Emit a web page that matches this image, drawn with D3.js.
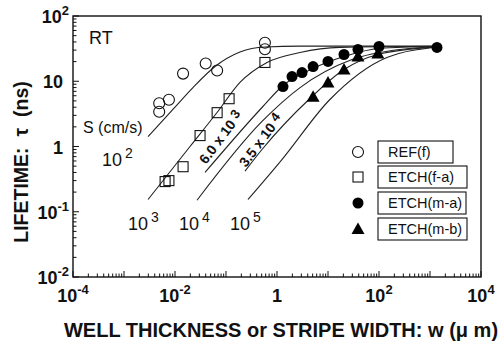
<!DOCTYPE html>
<html><head><meta charset="utf-8">
<script src="https://cdn.jsdelivr.net/npm/d3@7"></script>
<style>
body { margin: 0; background: #fff; }
text { font-family: "Liberation Sans", Arial, sans-serif; fill: #111; }
</style>
</head><body>
<svg id="chart"></svg>
<script>
// measured points, w in um, tau in ns
const refF = [[0.0049, 3.4], [0.0049, 4.6], [0.0076, 5.2], [0.0144, 13.1], [0.040, 18.7], [0.067, 14.6], [0.58, 39], [0.58, 31]];
const etchFA = [[0.0064, 0.29], [0.0076, 0.30], [0.0144, 0.49], [0.031, 1.47], [0.067, 3.3], [0.115, 5.4], [0.58, 19.4]];
const etchMA = [[1.31, 8.3], [1.97, 11.8], [3.1, 13.6], [5.1, 16.8], [10, 20.1], [20.6, 25.7], [38.7, 30.7], [100, 34.1], [1370, 33]];
const etchMB = [[5.1, 5.8], [10, 9.6], [20.6, 15.1], [38.7, 24], [95, 26.6]];

// calculated curves for each surface recombination velocity S
const curveS1e2 = [[0.00296, 1.42], [0.0091, 3.7], [0.0225, 8.0], [0.061, 16.8], [0.188, 28], [0.58, 33.5], [2.8, 34.5], [1370, 34.5]];
const curveS1e3 = [[0.00296, 0.154], [0.0197, 1.0], [0.0667, 3.32], [0.188, 9.6], [0.637, 19.4], [2.83, 27.6], [17.2, 33], [1370, 34.3]];
const curveS6e3 = [[0.0388, 0.40], [0.508, 3.96], [1.31, 8.6], [5.1, 15.7], [20.6, 23.9], [100, 31.8], [1370, 34]];
const curveS1e4 = [[0.027, 0.15], [0.508, 2.42], [2.83, 8.0], [29.6, 21.5], [258, 30.7], [1370, 33.8]];
const curveS35e4 = [[0.236, 0.42], [0.508, 0.9], [4.43, 5.44], [20.6, 15.1], [95, 25.7], [1370, 33.6]];
const curveS1e5 = [[0.27, 0.154], [1.25, 0.63], [10.9, 5.25], [143, 23.1], [1370, 33.2]];
const curves = [curveS1e2, curveS1e3, curveS6e3, curveS1e4, curveS35e4, curveS1e5];

const xTickExp = [-4, -2, 0, 2, 4];
const yTickExp = [-2, -1, 0, 1, 2];
const legendNames = ["REF(f)", "ETCH(f-a)", "ETCH(m-a)", "ETCH(m-b)"];

const W = 503, H = 342;
const svg = d3.select("#chart").attr("width", W).attr("height", H);

const x = d3.scaleLog().domain([1e-4, 1e4]).range([73, 481]);
const y = d3.scaleLog().domain([1e-2, 1e2]).range([277, 16]);

// curves
const line = d3.line().x(d => x(d[0])).y(d => y(d[1])).curve(d3.curveMonotoneX);
curves.forEach(c => {
    svg.append("path").attr("d", line(c))
        .attr("fill", "none").attr("stroke", "#222").attr("stroke-width", 1.1);
});

// frame
svg.append("rect").attr("x", 73).attr("y", 16).attr("width", 408).attr("height", 261)
    .attr("fill", "none").attr("stroke", "#111").attr("stroke-width", 1.4);

// ticks, pointing inward
x.ticks().forEach(v => {
    const major = Math.abs(Math.log10(v) - Math.round(Math.log10(v))) < 1e-6;
    svg.append("line").attr("x1", x(v)).attr("x2", x(v))
        .attr("y1", 277).attr("y2", 277 - (major ? 6 : 3.5))
        .attr("stroke", "#111").attr("stroke-width", 1);
});
y.ticks().forEach(v => {
    const major = Math.abs(Math.log10(v) - Math.round(Math.log10(v))) < 1e-6;
    svg.append("line").attr("y1", y(v)).attr("y2", y(v))
        .attr("x1", 73).attr("x2", 73 + (major ? 6 : 3.5))
        .attr("stroke", "#111").attr("stroke-width", 1);
});

// power-of-ten label helper
function pow10(g, e, size, supSize) {
    const t = g.append("text").attr("font-size", size);
    if (e === 0) { t.text("1"); return t; }
    t.append("tspan").text("10");
    if (e !== 1) t.append("tspan").attr("font-size", supSize).attr("dy", -size * 0.42).text(e);
    return t;
}

xTickExp.forEach(e => {
    pow10(svg, e, 18, 13).attr("font-weight", "bold")
        .attr("x", x(Math.pow(10, e))).attr("y", 302).attr("text-anchor", "middle");
});
yTickExp.forEach(e => {
    const plain = e === 0 || e === 1;
    pow10(svg, e, 18, 13).attr("font-weight", "bold")
        .attr("x", plain ? 63 : 69).attr("y", y(Math.pow(10, e)) + 7).attr("text-anchor", "end");
});

// axis titles
svg.append("text").attr("x", 281).attr("y", 337).attr("text-anchor", "middle")
    .attr("font-size", 20).attr("font-weight", "bold")
    .text("WELL THICKNESS or STRIPE WIDTH: w (\u03bc m)");
svg.append("text").attr("transform", "translate(28,162) rotate(-90)")
    .attr("text-anchor", "middle").attr("font-size", 19.5).attr("font-weight", "bold")
    .style("white-space", "pre")
    .text("LIFETIME:  \u03c4  (ns)");

// in-plot labels
svg.append("text").attr("x", 89).attr("y", 44).attr("font-size", 18).text("RT");
svg.append("text").attr("x", 83).attr("y", 133).attr("font-size", 16).text("S (cm/s)");
[[2, 102, 166], [3, 128, 230], [4, 179, 230], [5, 230, 230]].forEach(d => {
    pow10(svg, d[0], 18, 14).attr("x", d[1]).attr("y", d[2]).selectAll("tspan")
        .filter((_, i) => i === 1).attr("dx", 3);
});
[["6.0 x 10", "3", 206, 165], ["3.5 x 10", "4", 246, 168]].forEach(d => {
    const t = svg.append("text").attr("transform", `translate(${d[2]},${d[3]}) rotate(-53)`)
        .attr("font-size", 14).attr("font-weight", "bold");
    t.append("tspan").text(d[0]);
    t.append("tspan").attr("dx", 4).attr("dy", -3).attr("font-size", 13).text(d[1]);
});

// markers
function drawMarkers(data, kind) {
    data.forEach(d => marker(x(d[0]), y(d[1]), kind));
}
function marker(cx, cy, kind) {
    if (kind === "open") {
        svg.append("circle").attr("cx", cx).attr("cy", cy).attr("r", 5.5)
            .attr("fill", "none").attr("stroke", "#111").attr("stroke-width", 1.1);
    } else if (kind === "square") {
        svg.append("rect").attr("x", cx - 5).attr("y", cy - 5).attr("width", 10).attr("height", 10)
            .attr("fill", "none").attr("stroke", "#111").attr("stroke-width", 1.1);
    } else if (kind === "dot") {
        svg.append("circle").attr("cx", cx).attr("cy", cy).attr("r", 5.5).attr("fill", "#000");
    } else {
        svg.append("path").attr("d", `M${cx},${cy - 6.5}L${cx + 6.5},${cy + 5}L${cx - 6.5},${cy + 5}Z`)
            .attr("fill", "#000");
    }
}
drawMarkers(refF, "open");
drawMarkers(etchFA, "square");
drawMarkers(etchMA, "dot");
drawMarkers(etchMB, "tri");

// legend
const kinds = ["open", "square", "dot", "tri"];
const rowY = [152, 177, 203, 229];
const boxW = [75, 89, 88, 89];
legendNames.forEach((n, i) => {
    marker(358, rowY[i], kinds[i]);
    svg.append("rect").attr("x", 378).attr("y", rowY[i] - 11).attr("width", boxW[i]).attr("height", 22)
        .attr("fill", "#fff").attr("stroke", "#111").attr("stroke-width", 1.1);
    svg.append("text").attr("x", 388).attr("y", rowY[i] + 5).attr("font-size", 14.5).text(n);
});
</script>
</body></html>
